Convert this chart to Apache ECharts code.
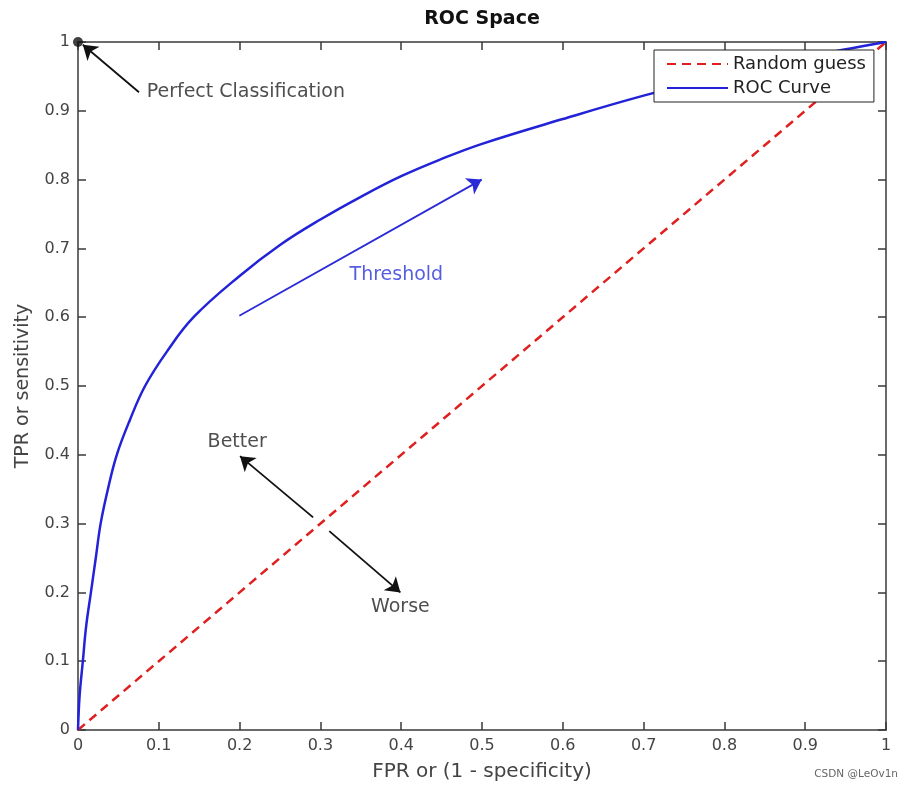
<!DOCTYPE html>
<html>
<head>
<meta charset="utf-8">
<script src="https://cdn.jsdelivr.net/npm/echarts@6/dist/echarts.min.js"></script>
<style>html,body{margin:0;padding:0;background:#fff}#c{width:912px;height:788px}</style>
</head>
<body>
<div id="c"></div>
<script>
// ---- data ----
const xTicks = [0, 0.1, 0.2, 0.3, 0.4, 0.5, 0.6, 0.7, 0.8, 0.9, 1];
const yTicks = [0, 0.1, 0.2, 0.3, 0.4, 0.5, 0.6, 0.7, 0.8, 0.9, 1];
const rocFPR = [0, 0.002, 0.006, 0.010, 0.016, 0.022, 0.028, 0.037, 0.048, 0.064, 0.083, 0.110, 0.143, 0.200, 0.250, 0.300, 0.350, 0.400, 0.450, 0.500, 0.600, 0.700, 0.800, 0.900, 1.000];
const rocTPR = [0, 0.050, 0.100, 0.150, 0.200, 0.250, 0.300, 0.350, 0.400, 0.450, 0.500, 0.550, 0.600, 0.660, 0.705, 0.742, 0.775, 0.805, 0.830, 0.852, 0.888, 0.922, 0.952, 0.978, 1.000];
const randFPR = [0, 1];
const randTPR = [0, 1];
const perfectPoint = [0, 1];
// arrows: [fromX, fromY, toX, toY]
const blackArrows = [
  [0.0755, 0.927, 0.006, 0.996],
  [0.291, 0.309, 0.2005, 0.398],
  [0.311, 0.289, 0.399, 0.200]
];
const blueArrows = [
  [0.1997, 0.602, 0.4996, 0.800]
];
// text labels: [x, y, text, align]
const blackTexts = [
  [0.085, 0.927, 'Perfect Classification', 'left'],
  [0.197, 0.419, 'Better', 'center'],
  [0.399, 0.179, 'Worse', 'center']
];
const blueTexts = [
  [0.394, 0.661, 'Threshold', 'center']
];

const FONT = '"DejaVu Sans", "Liberation Sans", Arial, sans-serif';
const AXC = '#3a3a3a';

const chart = echarts.init(document.getElementById('c'), null, {renderer: 'canvas'});

function fmt(v) {
  if (Math.abs(v - 1) < 1e-9) return '1';
  if (Math.abs(v) < 1e-9) return '0';
  return String(Math.round(v * 10) / 10);
}

function axisCommon(extra) {
  return Object.assign({
    type: 'value', min: 0, max: 1, interval: 0.1,
    axisLine: {show: true, onZero: false, lineStyle: {color: AXC, width: 1.5}},
    axisTick: {show: true, inside: true, length: 8, lineStyle: {color: AXC, width: 1.5}},
    splitLine: {show: false},
    axisLabel: {show: true, color: '#444', fontSize: 16, fontFamily: FONT, margin: 8, formatter: fmt}
  }, extra);
}

const option = {
  backgroundColor: '#fff',
  animation: false,
  graphic: [
    {type: 'text', x: 482, y: 19, style: {text: 'ROC Space', font: 'bold 19px ' + FONT, fill: '#111', textAlign: 'center', textVerticalAlign: 'middle'}},
    {type: 'text', x: 898, y: 774, style: {text: 'CSDN @LeOv1n', font: '10.5px ' + FONT, fill: '#666', textAlign: 'right', textVerticalAlign: 'middle'}}
  ],
  grid: {left: 78, right: 26, top: 42, bottom: 58, containLabel: false, outerBoundsMode: 'none'},
  legend: {
    orient: 'vertical', left: 654, top: 50,
    backgroundColor: '#fff', borderColor: '#222', borderWidth: 1,
    padding: [5, 8, 5, 12], itemGap: 6, itemWidth: 61, itemHeight: 14,
    itemStyle: {opacity: 0},
    textStyle: {fontSize: 18, color: '#222', fontFamily: FONT},
    data: ['Random guess', 'ROC Curve']
  },
  xAxis: [
    axisCommon({position: 'bottom', name: 'FPR or (1 - specificity)', nameLocation: 'middle', nameGap: 32,
      nameTextStyle: {fontSize: 20, color: '#444', fontFamily: FONT}}),
    axisCommon({position: 'top', axisLabel: {show: false}})
  ],
  yAxis: [
    axisCommon({position: 'left', name: 'TPR or sensitivity', nameLocation: 'middle', nameGap: 45,
      nameTextStyle: {fontSize: 19, color: '#444', fontFamily: FONT}}),
    axisCommon({position: 'right', axisLabel: {show: false}})
  ],
  series: [
    {
      name: 'Random guess', type: 'line', symbol: 'none',
      data: randFPR.map((x, i) => [x, randTPR[i]]),
      lineStyle: {color: '#e0201f', width: 2.5, type: [9, 6]},
      itemStyle: {color: '#e0201f'}, z: 3
    },
    {
      name: 'ROC Curve', type: 'line', symbol: 'none', smooth: 0.4,
      data: rocFPR.map((x, i) => [x, rocTPR[i]]),
      lineStyle: {color: '#2222d8', width: 2.5},
      itemStyle: {color: '#2222d8'}, z: 3
    },
    {
      type: 'lines', coordinateSystem: 'cartesian2d', polyline: false,
      symbol: ['none', 'arrow'], symbolSize: [0, 14],
      lineStyle: {color: '#111', width: 1.8, opacity: 1, curveness: 0},
      data: blackArrows.map(a => ({coords: [[a[0], a[1]], [a[2], a[3]]]})), z: 4, silent: true
    },
    {
      type: 'lines', coordinateSystem: 'cartesian2d', polyline: false,
      symbol: ['none', 'arrow'], symbolSize: [0, 14],
      lineStyle: {color: '#2a2ad8', width: 1.8, opacity: 1, curveness: 0},
      data: blueArrows.map(a => ({coords: [[a[0], a[1]], [a[2], a[3]]]})), z: 4, silent: true
    },
    {
      type: 'scatter', symbol: 'circle', symbolSize: 10,
      itemStyle: {color: '#111'}, data: [perfectPoint], z: 6, silent: true
    },
    {
      type: 'scatter', symbolSize: 0, silent: true, z: 5,
      data: blackTexts.map(t => ({value: [t[0], t[1]], name: t[2],
        label: {show: true, position: 'inside', formatter: t[2], align: t[3], verticalAlign: 'middle',
          color: '#222', fontSize: 19, fontFamily: FONT}}))
    },
    {
      type: 'scatter', symbolSize: 0, silent: true, z: 5,
      data: blueTexts.map(t => ({value: [t[0], t[1]], name: t[2],
        label: {show: true, position: 'inside', formatter: t[2], align: t[3], verticalAlign: 'middle',
          color: '#2a35d8', fontSize: 19, fontFamily: FONT}}))
    }
  ]
};
chart.setOption(option);
</script>
</body>
</html>
